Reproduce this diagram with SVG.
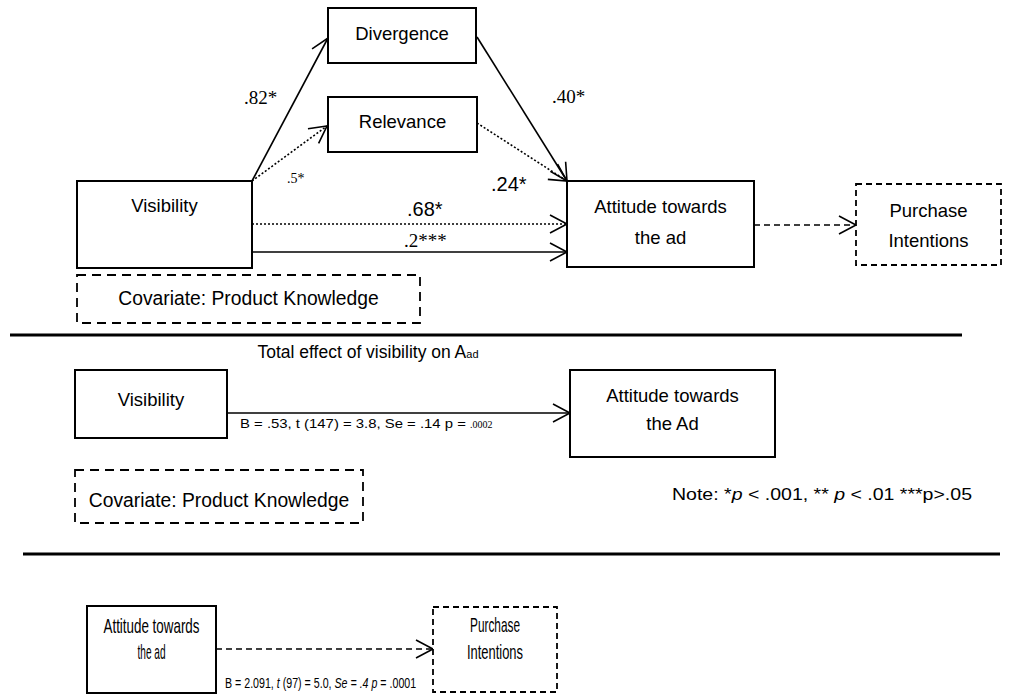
<svg xmlns="http://www.w3.org/2000/svg" width="1035" height="696" viewBox="0 0 1035 696">
<defs>
<marker id="ah" markerUnits="userSpaceOnUse" markerWidth="24" markerHeight="24" viewBox="-20 -12 24 24" refX="0" refY="0" orient="auto">
<path d="M-17,-9 L0,0 L-17,9" fill="none" stroke="#000" stroke-width="1.6"/>
</marker>
</defs>
<style>
.box{fill:#fff;stroke:#000;stroke-width:2}
.dbox{fill:#fff;stroke:#000;stroke-width:1.8;stroke-dasharray:6,4}
.cbox{fill:#fff;stroke:#000;stroke-width:1.8;stroke-dasharray:9,6}
.t{font-family:"Liberation Sans",Arial,sans-serif;font-size:18.5px;fill:#000;text-anchor:middle}
.n{font-family:"Liberation Sans",Arial,sans-serif;font-size:20px;fill:#000}
.s{font-family:"Liberation Serif","Times New Roman",serif;fill:#000}
.solid{stroke:#000;stroke-width:1.6;fill:none;marker-end:url(#ah)}
.dot{stroke:#000;stroke-width:1.6;fill:none;stroke-dasharray:2,2;marker-end:url(#ah)}
.dash{stroke:#000;stroke-width:1.6;fill:none;stroke-dasharray:6,4;marker-end:url(#ah)}
.sep{stroke:#000;stroke-width:3}
</style>
<rect width="1035" height="696" fill="#fff"/>

<g id="connectors">
<line class="solid" x1="252" y1="181" x2="328" y2="38"/>
<line class="dot" x1="252" y1="181" x2="327" y2="126"/>
<line class="solid" x1="477" y1="37" x2="567" y2="181"/>
<line class="dot" x1="477" y1="123" x2="567" y2="181"/>
<line class="dot" x1="252" y1="224" x2="567" y2="224"/>
<line class="solid" x1="252" y1="252" x2="567" y2="252"/>
<line class="dash" x1="754" y1="225" x2="856" y2="225"/>
<line class="solid" x1="227" y1="413" x2="570" y2="413"/>
<line class="dash" x1="216" y1="649" x2="433" y2="649"/>
</g>

<g id="labels">
<text class="s" x="244" y="104" style="font-size:19px">.82*</text>
<text class="s" x="552" y="103" style="font-size:19px">.40*</text>
<text class="s" x="287" y="183" style="font-size:14px">.5*</text>
<text class="n" x="491" y="191">.24*</text>
<text class="n" x="407" y="216">.68*</text>
<text class="s" x="404" y="247" style="font-size:19px">.2***</text>
</g>

<g id="divergence">
<rect class="box" x="328" y="8" width="148" height="55"/>
<text class="t" x="402" y="40">Divergence</text>
</g>
<g id="relevance">
<rect class="box" x="328" y="97" width="149" height="55"/>
<text class="t" x="402.5" y="128">Relevance</text>
</g>
<g id="visibility1">
<rect class="box" x="77" y="181" width="175" height="87"/>
<text class="t" x="164.5" y="212">Visibility</text>
</g>
<g id="attitude1">
<rect class="box" x="567" y="181" width="187" height="86"/>
<text class="t" x="660.5" y="213">Attitude towards</text>
<text class="t" x="660.5" y="244">the ad</text>
</g>
<g id="purchase1">
<rect class="dbox" x="856" y="184" width="145" height="81"/>
<text class="t" x="928.5" y="217">Purchase</text>
<text class="t" x="928.5" y="247">Intentions</text>
</g>
<g id="covariate1">
<rect class="cbox" x="77" y="275" width="343" height="48"/>
<text class="t" x="248.5" y="305" style="font-size:19.3px">Covariate: Product Knowledge</text>
</g>

<line class="sep" x1="10" y1="335" x2="962" y2="335"/>

<text class="t" x="368" y="358" style="font-size:17.5px">Total effect of visibility on A<tspan style="font-size:11px">ad</tspan></text>

<g id="visibility2">
<rect class="box" x="75" y="370" width="152" height="68"/>
<text class="t" x="151" y="406">Visibility</text>
</g>
<g id="attitude2">
<rect class="box" x="570" y="370" width="205" height="87"/>
<text class="t" x="672.5" y="402">Attitude towards</text>
<text class="t" x="672.5" y="430">the Ad</text>
</g>
<text x="240" y="428" font-family="Liberation Sans, Arial, sans-serif" font-size="13.5"><tspan textLength="230" lengthAdjust="spacingAndGlyphs">B = .53, t (147) = 3.8, Se = .14 p = </tspan><tspan font-family="Liberation Serif, Times New Roman, serif" font-size="10">.0002</tspan></text>

<g id="covariate2">
<rect class="cbox" x="75" y="470" width="288" height="53"/>
<text class="t" x="219" y="507" style="font-size:19.3px">Covariate: Product Knowledge</text>
</g>

<text x="672" y="500" font-family="Liberation Sans, Arial, sans-serif" font-size="16" textLength="300" lengthAdjust="spacingAndGlyphs">Note: *<tspan font-style="italic">p</tspan> &lt; .001, ** <tspan font-style="italic">p</tspan> &lt; .01 ***p&gt;.05</text>

<line class="sep" x1="23" y1="554" x2="1000" y2="554"/>

<g id="attitude3">
<rect class="box" x="87" y="606" width="129" height="87"/>
<text class="t" x="151.5" y="633" style="font-size:21px" textLength="96" lengthAdjust="spacingAndGlyphs">Attitude towards</text>
<text class="t" x="151.5" y="659" style="font-size:21px" textLength="28" lengthAdjust="spacingAndGlyphs">the ad</text>
</g>
<g id="purchase3">
<rect class="dbox" x="433" y="607" width="124" height="85"/>
<text class="t" x="495" y="632" style="font-size:21px" textLength="50" lengthAdjust="spacingAndGlyphs">Purchase</text>
<text class="t" x="495" y="659" style="font-size:21px" textLength="56" lengthAdjust="spacingAndGlyphs">Intentions</text>
</g>
<text transform="translate(225,688) scale(0.71,1)" x="0" y="0" font-family="Liberation Sans, Arial, sans-serif" font-size="15">B = 2.091, <tspan font-style="italic">t</tspan> (97) = 5.0, <tspan font-style="italic">Se = .4 p</tspan> = .0001</text>
</svg>
